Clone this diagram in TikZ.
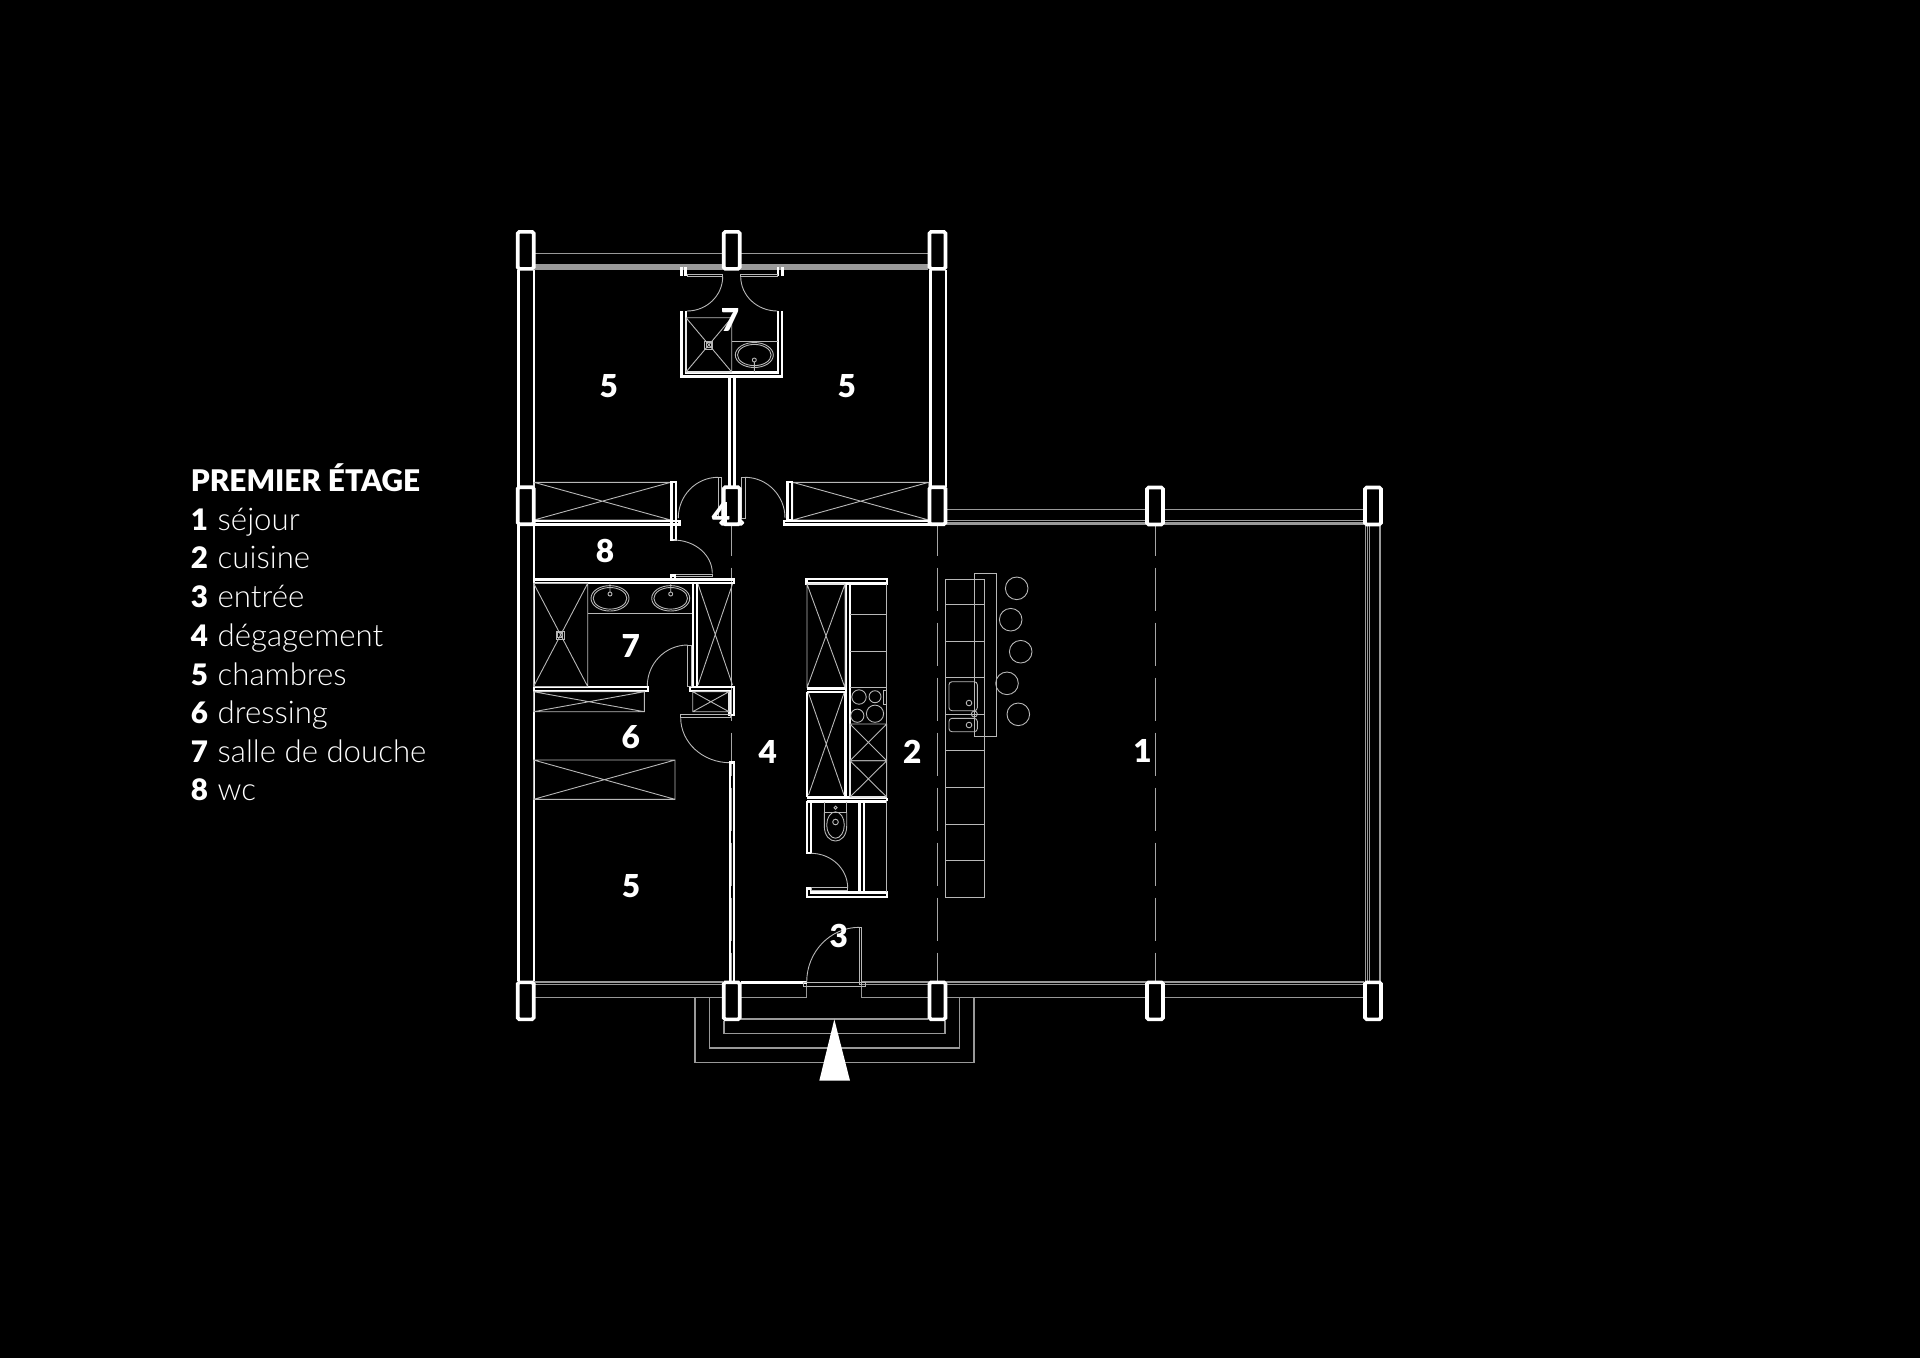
\documentclass[tikz,border=0pt]{standalone}
\usepackage{fontspec}
\setmainfont{Lato}
\newfontfamily\heavyface{Lato Black}
\newfontfamily\lightface{Lato Light}
\usetikzlibrary{calc}
\tikzset{
  wall/.style={draw=white,line width=1.3pt},
  wallthin/.style={draw=white,line width=1.1pt},
  fine/.style={draw=white!72!black,line width=.45pt},
  faint/.style={draw=white!60!black,line width=.55pt},
  column/.style={draw=white,line width=1.8pt,fill=black,rounded corners=.8pt},
  axis/.style={draw=white!65!black,line width=.5pt,dash pattern=on 21.65pt off 5.85pt,dash phase=6.65pt},
  roomno/.style={text=white,font=\fontsize{15.8}{15.8}\selectfont\heavyface,inner sep=0pt},
  legend/.style={text=white,font=\fontsize{15.6}{15.6}\selectfont\lightface,inner sep=0pt,anchor=base west}
}
\newcommand\xbox[4]{\draw[fine] (#1,#2) rectangle (#3,#4) (#1,#2) -- (#3,#4) (#3,#2) -- (#1,#4);}
\newcommand\qarc[3]{\draw[fine] (#1) .. controls ($(#1)!.5523!(#2)$) and ($(#3)!.5523!(#2)$) .. (#3);}
\newcommand\legline[4]{\node[legend] (#1) at (190.5,#2) {\makebox[13.4pt][l]{\fontsize{14.8}{14.8}\selectfont\heavyface #3}#4};}
\newcommand\colm[2]{\draw[column] (#1-8,#2-18.5) rectangle (#1+8,#2+18.5);}
\begin{document}
\begin{tikzpicture}[x=.5pt,y=-.5pt]
\useasboundingbox (0,0) rectangle (1920,1357);
\fill[black] (-5,-5) rectangle (1925,1362);

% structural axes
\draw[axis] (937.5,526) -- (937.5,981);
\draw[axis] (1155,526) -- (1155,981);
\draw[axis] (731.7,526) -- (731.7,981);

% balconies
\foreach \y in {253.7,265,267,269} \draw[faint] (534,\y) -- (928,\y);
\foreach \y in {509.3,520.7,522.3,524} \draw[faint] (946,\y) -- (1364,\y);
\foreach \x in {1365.3,1367.3,1369.3,1380} \draw[faint] (\x,526) -- (\x,981);
\foreach \y in {982,984.5} \draw[faint] (534,\y) -- (723,\y);
\foreach \y in {982,984.5} \draw[faint] (861,\y) -- (1364,\y);
\draw[faint] (534,997.3) -- (723,997.3);
\draw[faint] (740,997.3) -- (806.7,997.3) -- (806.7,984);
\draw[faint] (861.7,984) -- (861.7,997.3) -- (1364,997.3);

% outer walls
\draw[wall] (518.5,270) -- (518.5,981);
\draw[wallthin] (533.6,270) -- (533.6,981);
\draw[wall] (930.7,270) -- (930.7,487);
\draw[wallthin] (945.7,270) -- (945.7,487);

% north suite: doors
\draw[wallthin] (681.5,267) -- (681.5,276) (685.5,267) -- (685.5,276);
\draw[wallthin] (778,267) -- (778,276) (782.5,267) -- (782.5,276);
\draw[fine] (687,274.7) rectangle (722.7,276.7);
\draw[fine] (740.7,274.7) rectangle (777,276.7);
\qarc{722.7,276.5}{722.7,311}{687,311}
\qarc{740.7,276.5}{740.7,311}{777.3,311}

% north shower room
\draw[wall] (681.5,311) -- (681.5,376.5) -- (782,376.5) -- (782,311);
\draw[wallthin] (686,311) -- (686,372.5) -- (778,372.5) -- (778,311);
\draw[wallthin] (729.5,377) -- (729.5,487) (734.5,377) -- (734.5,487);
\xbox{686}{317.7}{731.7}{372}
\draw[fine] (704.7,341) rectangle (712.7,349) (706.2,342.5) rectangle (711.2,347.5);
\draw[fine] (731.7,341) -- (778,341);
\draw[fine] (754.3,355) ellipse [x radius=9.5pt,y radius=6.25pt];
\draw[fine] (754.3,355) ellipse [x radius=8.4pt,y radius=5.3pt];
\draw[fine] (754.3,360) circle[radius=1pt] (754.3,362) -- (754.3,372);

% closets under north rooms
\xbox{534}{482.3}{670.7}{520}
\xbox{792.7}{482.3}{928.7}{520}
\draw[wallthin] (534,521) rectangle (679.5,524.5);
\draw[wallthin] (784,521) rectangle (928.7,524.5);
\draw[wallthin] (671.5,482) rectangle (676,540);
\draw[wallthin] (787.5,482) rectangle (792,520.5);
\draw[wallthin,rounded corners=.8pt] (720.5,521) rectangle (743,524.5);
\draw[fine] (718,477.3) rectangle (721.7,518);
\draw[fine] (741.7,477.3) rectangle (745,518);
\qarc{718,477.3}{678.3,477.3}{678.3,518}
\qarc{745,477.3}{785,477.3}{785,518}

% WC door
\qarc{673.3,540}{712.3,540}{712.3,573.3}
\draw[fine] (675,574) rectangle (712.3,576.2);

% south block walls
\draw[wallthin] (534,579.5) rectangle (734,583);
\draw[wallthin] (671,578.5) -- (671,575.5) -- (675,575.5) -- (675,578.5);
\draw[wallthin] (693,583) -- (693,686.5) (697,583) -- (697,686.5);
\draw[wallthin] (534,687) rectangle (648.3,691);
\draw[wallthin] (690,687) -- (733.8,687) -- (733.8,715) -- (729.5,715) -- (729.5,691) -- (690,691) -- cycle;
\draw[fine] (731.7,584) -- (731.7,686);
\draw[fine] (698,584) -- (732.5,685) (732.5,584) -- (698,685);
\xbox{533.6}{583.3}{587.7}{686.5}
\draw[fine] (556,631) rectangle (564,639) (557.5,632.5) rectangle (562.5,637.5);
\draw[fine] (587.7,613.3) -- (692,613.3);
\foreach \x in {610,670.7}{
  \draw[fine] (\x,598.3) ellipse [x radius=9.5pt,y radius=6.35pt];
  \draw[fine] (\x,598.3) ellipse [x radius=8.4pt,y radius=5.4pt];
  \draw[fine] (\x,594) circle[radius=1pt] (\x,592) -- (\x,583);
}
\draw[fine] (687.7,645) rectangle (691,686.5);
\qarc{687.7,645}{647.3,645}{647.3,686}
\xbox{533.6}{691.7}{644.3}{711.7}
\xbox{692.7}{691.7}{729}{711.7}
\draw[fine] (680.7,714) rectangle (730,717.5);
\qarc{680.7,717.7}{680.7,762.7}{730,762.7}
\xbox{533.6}{760}{675}{799.3}
\draw[wallthin] (729.8,981) -- (729.8,762.5) -- (734.2,762.5) -- (734.2,981);

% kitchen service block
\draw[wallthin] (806.5,579) rectangle (887,583.5);
\draw[wall] (845.9,584) -- (845.9,797) (849.9,584) -- (849.9,797);
\xbox{807}{584}{845}{687.7}
\draw[wall] (807,688.5) -- (845,688.5);
\draw[wall] (807,692) -- (845,692) (845,692) -- (845,797) (807,692) -- (807,797);
\draw[fine] (808.5,693) -- (844,795) (844,693) -- (808.5,795);
\draw[wall] (807,797.5) -- (887,797.5) (807,801.3) -- (887,801.3) (887,797.5) -- (887,801.3);
\draw[fine] (886.7,584) -- (886.7,797);
\foreach \y in {614.3,651,687.7} \draw[fine] (850,\y) -- (886.7,\y);
\xbox{850}{724}{886.7}{760.7}
\xbox{850}{760.7}{886.7}{797}
\draw[fine] (859,697) circle[radius=3.6pt] (875,696.7) circle[radius=3pt] (857.3,715.7) circle[radius=3.3pt] (875,713.7) circle[radius=4.3pt];
\draw[fine] (883.3,690.7) rectangle (886,704.3);
\draw[wallthin] (806.6,801) -- (806.6,853.3) -- (811,853.3) -- (811,802);
\draw[wallthin] (859.5,801) -- (859.5,892) (864,801) -- (864,892);
\draw[wallthin] (806.6,888.5) -- (811,888.5) -- (811,892.5) -- (887,892.5) -- (887,897) -- (806.6,897) -- cycle;
\draw[fine] (811,887.7) rectangle (847.7,890);
\qarc{811,853.3}{847.7,853.3}{847.7,888}
\draw[fine] (886.7,801) -- (886.7,892);
% toilet
\draw[fine] (824.3,802) -- (824.3,812.3) -- (846.7,812.3) -- (846.7,802);
\draw[fine] (835.5,807.7) circle[radius=.8pt];
\draw[fine] (824.3,812.3) -- (824.3,826) .. controls (824.3,836) and (830,841) .. (835.5,841) .. controls (841,841) and (846.7,836) .. (846.7,826) -- (846.7,812.3);
\draw[fine] (835.5,825) ellipse [x radius=4.4pt,y radius=6.6pt];
\draw[fine] (835.5,822) circle[radius=1.4pt];

% kitchen worktop
\draw[fine] (945,579) rectangle (984.3,897.3);
\foreach \y in {604.3,641.3,677.7,714,750.7,787.3,824,860.7} \draw[fine] (945,\y) -- (984.3,\y);
\draw[fine,rounded corners=1.5pt] (949,681.7) rectangle (977.3,710.7);
\draw[fine,rounded corners=1.5pt] (949,718.3) rectangle (977.3,731.7);
\draw[fine] (969,703) circle[radius=1.4pt] (969,725) circle[radius=1.4pt] (974.3,714) circle[radius=1.5pt];
\draw[fine] (974.3,573) rectangle (996,736.7);
\foreach \x/\y in {1016.7/588.3,1010.7/619.7,1020.7/651.7,1007/683.3,1018.3/714.3}
  \draw[fine] (\x,\y) circle[radius=5.65pt];

% entrance
\draw[wall] (740.7,982.3) -- (806.7,982.3);
\draw[fine] (803.3,982.3) rectangle (865.7,986);
\draw[fine] (859.3,927.3) rectangle (861.7,984);
\qarc{859.3,927.3}{806.7,927.3}{806.7,982}
\draw[faint] (740,1019) -- (928,1019);
\draw[faint] (724,1021) -- (724,1033.3) -- (945,1033.3) -- (945,1021);
\draw[faint] (709.3,997.3) -- (709.3,1048) -- (959.3,1048) -- (959.3,997.3);
\draw[faint] (695,997.3) -- (695,1062.7) -- (974,1062.7) -- (974,997.3);
\fill[white] (834.3,1019.3) -- (850,1080.7) -- (819.3,1080.7) -- cycle;

% columns
\foreach \x in {525.7,731.7,937.5}{\colm{\x}{250.3}\colm{\x}{505.7}\colm{\x}{1000.8}}
\foreach \x in {1155,1373}{\colm{\x}{506}\colm{\x}{1000.8}}

% room numbers
\node[roomno] (n7a) at (730,320) {7};
\node[roomno] (n5a) at (608.7,385.7) {5};
\node[roomno] (n5b) at (846.7,385.7) {5};
\node[roomno] (n4a) at (721,514) {4};
\node[roomno] (n8) at (605,551.4) {8};
\node[roomno] (n7b) at (630.7,645.7) {7};
\node[roomno] (n6) at (630.7,737.4) {6};
\node[roomno] (n4b) at (767.7,751.7) {4};
\node[roomno] (n2) at (912.3,751.7) {2};
\node[roomno] (n1) at (1142.5,751.3) {1};
\node[roomno] (n5c) at (631,886.4) {5};
\node[roomno] (n3) at (838.7,936.4) {3};

% legend
\node[legend,font=\fontsize{14.9}{14.9}\selectfont\heavyface] (title) at (190.5,491) {PREMIER ÉTAGE};
\legline{l1}{530.3}{1}{séjour}
\legline{l2}{568.3}{2}{cuisine}
\legline{l3}{607}{3}{entrée}
\legline{l4}{646}{4}{dégagement}
\legline{l5}{685}{5}{chambres}
\legline{l6}{723}{6}{dressing}
\legline{l7}{762}{7}{salle de douche}
\legline{l8}{800.3}{8}{wc}
\end{tikzpicture}
\end{document}
